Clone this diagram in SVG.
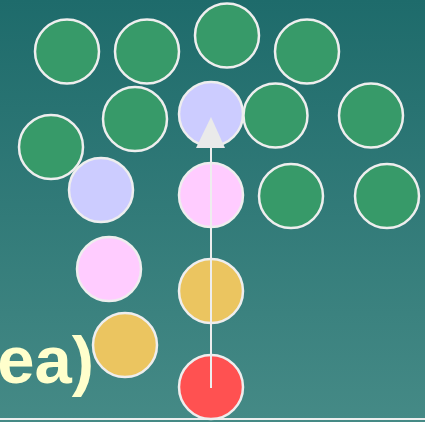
<svg xmlns="http://www.w3.org/2000/svg" width="425" height="422" viewBox="0 0 425 422">
<defs>
<linearGradient id="bg" x1="0" y1="0" x2="0" y2="1">
<stop offset="0" stop-color="#1e6b6b"/>
<stop offset="1" stop-color="#458a86"/>
</linearGradient>
<style>
.n{stroke:#eeeeee;stroke-width:2.5}
.g{fill:#379a69}
.l{fill:#ccccff}
.p{fill:#ffccff}
.o{fill:#ebc560}
.r{fill:#ff5151}
.t{font-family:"Liberation Sans",Arial,sans-serif;font-weight:bold;font-size:67px;fill:#ffffcc}
</style>
</defs>
<rect width="425" height="422" fill="url(#bg)"/>
<g id="n1"><circle class="n g" cx="67" cy="51.5" r="32"/></g>
<g id="n2"><circle class="n g" cx="147" cy="51.5" r="32"/></g>
<g id="n3"><circle class="n g" cx="227" cy="35.5" r="32"/></g>
<g id="n4"><circle class="n g" cx="307" cy="51.5" r="32"/></g>
<g id="n5"><circle class="n g" cx="135" cy="119" r="32"/></g>
<g id="n6"><circle class="n l" cx="211" cy="114" r="32"/></g>
<g id="n7"><circle class="n g" cx="275.5" cy="115.5" r="32"/></g>
<g id="n8"><circle class="n g" cx="371" cy="115.5" r="32"/></g>
<g id="n9"><circle class="n g" cx="51" cy="147" r="32"/></g>
<g id="n10"><circle class="n l" cx="101" cy="190" r="32"/></g>
<g id="n11"><circle class="n p" cx="211" cy="195" r="32"/></g>
<g id="n12"><circle class="n g" cx="291" cy="196" r="32"/></g>
<g id="n13"><circle class="n g" cx="387" cy="196" r="32"/></g>
<g id="n14"><circle class="n p" cx="109" cy="269" r="32"/></g>
<g id="n15"><circle class="n o" cx="211" cy="291" r="32"/></g>
<g id="n16"><circle class="n o" cx="125" cy="345" r="32"/></g>
<g id="n17"><circle class="n r" cx="211" cy="387" r="32"/></g>
<text class="t" x="94" y="383" text-anchor="end">ea)</text>
<g id="connectors">
<line x1="211" y1="388" x2="211" y2="140" stroke="#eeeeee" stroke-width="2"/>
<polygon points="211,117 196,148 225,148" fill="#eaeaea"/>
</g>
<line x1="0" y1="419" x2="425" y2="419" stroke="#eeeeee" stroke-width="2"/>
</svg>
